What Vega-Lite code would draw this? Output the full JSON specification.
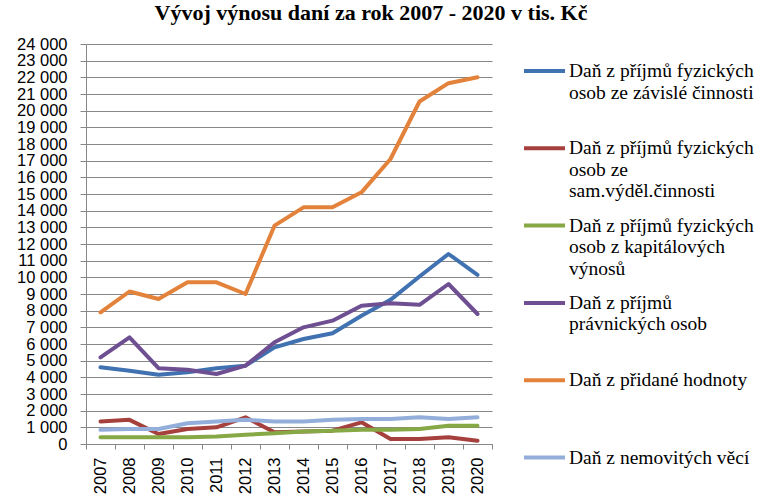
{
  "$schema": "https://vega.github.io/schema/vega-lite/v6.json",
  "width": 406,
  "height": 400,
  "autosize": {"type": "none"},
  "padding": {"left": 86, "top": 44, "right": 267, "bottom": 52},
  "background": "white",
  "title": {
    "text": "Vývoj výnosu daní za rok 2007 - 2020 v tis. Kč",
    "font": "Liberation Serif",
    "fontSize": 22,
    "fontWeight": "bold",
    "color": "black",
    "anchor": "middle",
    "dx": 82,
    "offset": 11
  },
  "config": {
    "view": {"stroke": null},
    "axis": {
      "labelFont": "Liberation Sans",
      "labelFontSize": 16.5,
      "labelColor": "black",
      "labelOverlap": false,
      "domainColor": "#878787",
      "tickColor": "#878787",
      "gridColor": "#878787",
      "gridWidth": 1,
      "title": null
    }
  },
  "data": {
    "values": [
      {"rok": "2007", "zc": 4600, "sc": 1350, "kv": 400, "po": 5200, "dph": 7900, "nv": 850},
      {"rok": "2008", "zc": 4400, "sc": 1450, "kv": 400, "po": 6400, "dph": 9150, "nv": 900},
      {"rok": "2009", "zc": 4150, "sc": 600, "kv": 400, "po": 4550, "dph": 8700, "nv": 900},
      {"rok": "2010", "zc": 4300, "sc": 900, "kv": 400, "po": 4450, "dph": 9700, "nv": 1250},
      {"rok": "2011", "zc": 4550, "sc": 1000, "kv": 450, "po": 4200, "dph": 9700, "nv": 1350},
      {"rok": "2012", "zc": 4700, "sc": 1600, "kv": 550, "po": 4700, "dph": 9000, "nv": 1450},
      {"rok": "2013", "zc": 5800, "sc": 700, "kv": 650, "po": 6100, "dph": 13100, "nv": 1350},
      {"rok": "2014", "zc": 6300, "sc": 750, "kv": 750, "po": 7000, "dph": 14200, "nv": 1350},
      {"rok": "2015", "zc": 6650, "sc": 800, "kv": 800, "po": 7400, "dph": 14200, "nv": 1450},
      {"rok": "2016", "zc": 7700, "sc": 1300, "kv": 850, "po": 8300, "dph": 15100, "nv": 1500},
      {"rok": "2017", "zc": 8650, "sc": 300, "kv": 850, "po": 8450, "dph": 17100, "nv": 1500},
      {"rok": "2018", "zc": 10050, "sc": 300, "kv": 900, "po": 8350, "dph": 20550, "nv": 1600},
      {"rok": "2019", "zc": 11400, "sc": 400, "kv": 1100, "po": 9600, "dph": 21650, "nv": 1500},
      {"rok": "2020", "zc": 10150, "sc": 200, "kv": 1100, "po": 7800, "dph": 22000, "nv": 1600}
    ]
  },
  "transform": [
    {"fold": ["zc", "sc", "kv", "po", "dph", "nv"], "as": ["dan", "v"]}
  ],
  "mark": {"type": "line", "strokeWidth": 4, "strokeJoin": "round", "strokeCap": "round"},
  "encoding": {
    "x": {
      "field": "rok",
      "type": "ordinal",
      "bandPosition": 0.5,
      "scale": {"type": "band", "paddingInner": 0, "paddingOuter": 0},
      "axis": {
        "labelAngle": -90,
        "labelAlign": "right",
        "labelBaseline": "middle",
        "tickBand": "extent",
        "tickSize": 5,
        "labelPadding": 8,
        "grid": false
      }
    },
    "y": {
      "field": "v",
      "type": "quantitative",
      "scale": {"domain": [0, 24000], "nice": false},
      "axis": {
        "values": [0, 1000, 2000, 3000, 4000, 5000, 6000, 7000, 8000, 9000, 10000, 11000, 12000, 13000, 14000, 15000, 16000, 17000, 18000, 19000, 20000, 21000, 22000, 23000, 24000],
        "labelExpr": "replace(format(datum.value, ',d'), ',', ' ')",
        "tickSize": 6,
        "labelPadding": 13,
        "grid": true
      }
    },
    "color": {
      "field": "dan",
      "type": "nominal",
      "scale": {
        "domain": ["zc", "sc", "kv", "po", "dph", "nv"],
        "range": ["#4071B0", "#A6403C", "#86A845", "#6D4F92", "#E3823A", "#93AEDA"]
      },
      "legend": {
        "title": null,
        "orient": "none",
        "legendX": 436,
        "legendY": 17,
        "padding": 0,
        "clipHeight": 20,
        "symbolType": "stroke",
        "symbolSize": 1681,
        "symbolStrokeWidth": 4,
        "labelFont": "Liberation Serif",
        "labelFontSize": 19.5,
        "labelColor": "black",
        "labelLimit": 300,
        "labelOffset": 2,
        "labelBaseline": "middle",
        "rowPadding": 14.3,
        "labelExpr": "datum.label == 'zc' ? ['Daň z příjmů fyzických', 'osob ze závislé činnosti', ''] : datum.label == 'sc' ? ['Daň z příjmů fyzických', 'osob ze', 'sam.výděl.činnosti'] : datum.label == 'kv' ? ['Daň z příjmů fyzických', 'osob z kapitálových', 'výnosů'] : datum.label == 'po' ? ['Daň z příjmů', 'právnických osob', ''] : datum.label == 'dph' ? ['Daň z přidané hodnoty', '', ''] : ['Daň z nemovitých věcí', '', '']"
      }
    }
  }
}
